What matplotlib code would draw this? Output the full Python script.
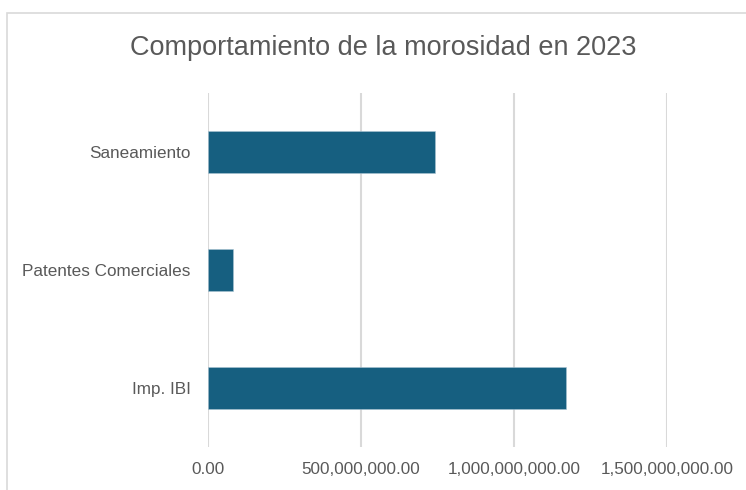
import matplotlib.pyplot as plt
from matplotlib.patches import Rectangle
from matplotlib.ticker import FuncFormatter

categorias = ["Imp. IBI", "Patentes Comerciales", "Saneamiento"]
morosidad = [1169000000, 80500000, 743000000]
ticks_x = [0, 500000000, 1000000000, 1500000000]

plt.rcParams['font.family'] = ['Liberation Sans', 'DejaVu Sans']

fig = plt.figure(figsize=(7.46, 4.90), dpi=100)
# marco del grafico
fig.patches.append(Rectangle((7/746, -0.1), 1.2, (490-13)/490 + 0.1, transform=fig.transFigure,
                             fill=False, edgecolor='#d9d9d9', linewidth=1.2))
ax = fig.add_axes([208/746, 43/490, 459/746, 354/490])

ax.barh(range(len(categorias)), morosidad, height=0.355, color='#165f80',
        edgecolor='#a9c4d2', linewidth=0.4, zorder=3)
ax.set_yticks(range(len(categorias)))
ax.set_yticklabels(categorias)
ax.set_ylim(-0.5, len(categorias) - 0.5)
ax.set_xlim(0, 1500000000)
ax.set_xticks(ticks_x)
ax.xaxis.set_major_formatter(FuncFormatter(lambda v, p: f"{v:,.2f}"))
ax.grid(axis='x', color='#d9d9d9', linewidth=1.5, zorder=0)
for s in ax.spines.values():
    s.set_visible(False)
ax.tick_params(length=0, labelcolor='#595959', labelsize=12.3)
ax.tick_params(axis='x', pad=11)
ax.tick_params(axis='y', pad=12.5)

fig.text(383/746, 1 - 48/490, "Comportamiento de la morosidad en 2023", ha='center', va='center',
         fontsize=19.5, color='#595959')

fig.savefig("out.png", dpi=100)
